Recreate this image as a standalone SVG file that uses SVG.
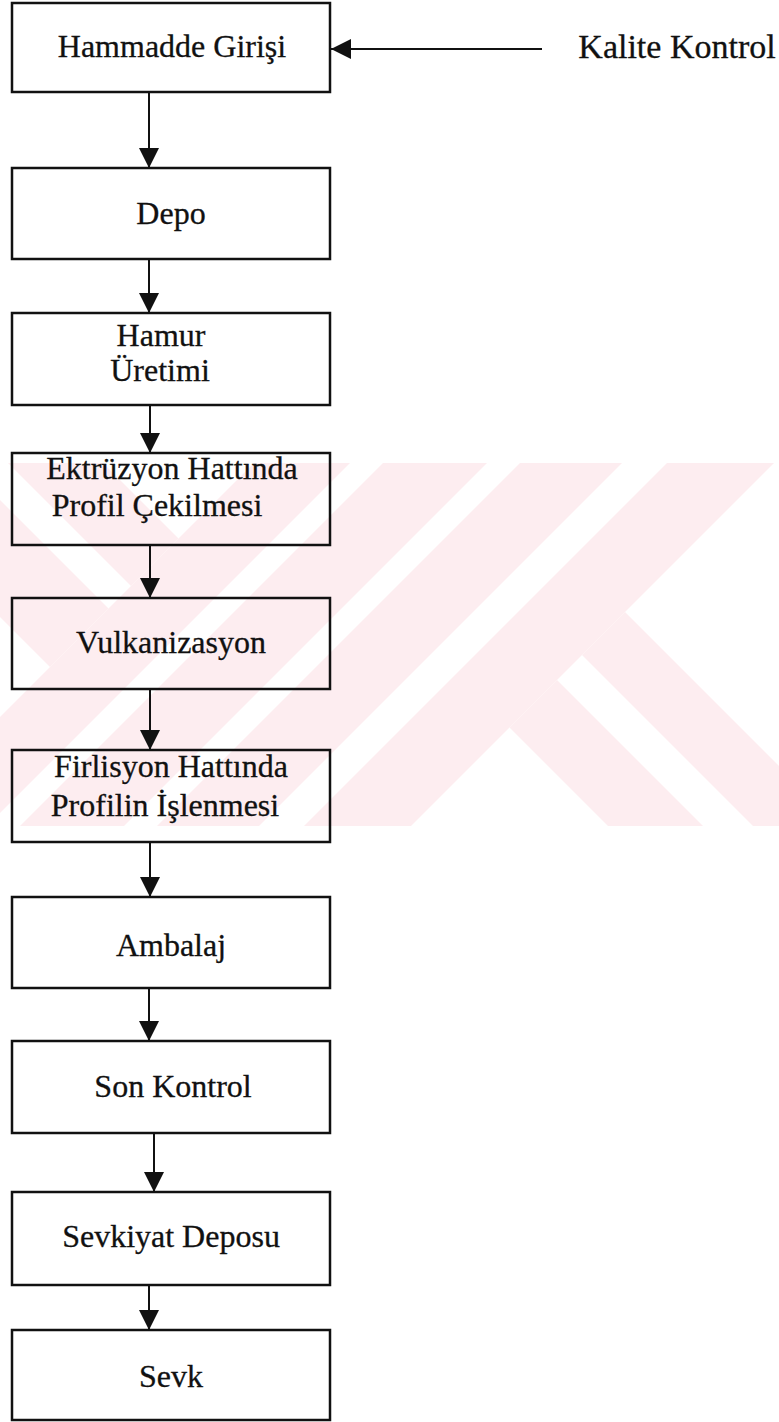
<svg xmlns="http://www.w3.org/2000/svg" width="779" height="1422" viewBox="0 0 779 1422">
  <style>
    .box { fill: none; stroke: #111; stroke-width: 2.5; }
    .t { font-family: "Liberation Serif", "Times New Roman", serif; font-size: 32px; fill: #111; stroke: #111; stroke-width: 0.3; text-anchor: middle; }
    .conn { stroke: #111; stroke-width: 2; fill: none; marker-end: url(#arrow); }
    .wm { fill: #fdedf0; }
  </style>
  <defs>
    <marker id="arrow" viewBox="0 0 20 20" refX="20" refY="10" markerWidth="20" markerHeight="20" markerUnits="userSpaceOnUse" orient="auto">
      <path d="M0,0 L20,10 L0,20 z" fill="#111"/>
    </marker>
    <clipPath id="wmclip">
      <rect x="0" y="463" width="779" height="363"/>
    </clipPath>
  </defs>
  <rect x="0" y="0" width="779" height="1422" fill="#ffffff"/>

  <g id="watermark" clip-path="url(#wmclip)">
    <polygon class="wm" points="254,463 350,463 -13,826 -109,826"/>
    <polygon class="wm" points="383,463 487,463 124,826 20,826"/>
    <polygon class="wm" points="520,463 622,463 259,826 157,826"/>
    <polygon class="wm" points="667,463 774,463 411,826 304,826"/>
    <polygon class="wm" points="625,612 913,900 827,900 582,655"/>
    <polygon class="wm" points="557,680 777,900 682,900 509.5,727.5"/>
    <polygon class="wm" points="50,667 108.5,608.5 -100,400 -217,400"/>
    <polygon class="wm" points="131,586 178.5,538.5 40,400 -55,400"/>
  </g>

  <g id="connectors">
    <line class="conn" x1="149" y1="92" x2="149" y2="168"/>
    <line class="conn" x1="149" y1="259" x2="149" y2="313"/>
    <line class="conn" x1="150" y1="405" x2="150" y2="453"/>
    <line class="conn" x1="150" y1="545" x2="150" y2="598"/>
    <line class="conn" x1="150" y1="690" x2="150" y2="750"/>
    <line class="conn" x1="150" y1="842" x2="150" y2="897"/>
    <line class="conn" x1="149" y1="988" x2="149" y2="1041"/>
    <line class="conn" x1="154" y1="1133" x2="154" y2="1192"/>
    <line class="conn" x1="149" y1="1285" x2="149" y2="1330"/>
    <line class="conn" x1="542" y1="49" x2="331" y2="49"/>
  </g>

  <g id="n-hammadde">
    <rect class="box" x="12" y="3" width="318" height="89"/>
    <text class="t" x="172" y="57">Hammadde Girişi</text>
  </g>
  <g id="n-kalite">
    <text class="t" x="677" y="58" style="font-size:34px">Kalite Kontrol</text>
  </g>
  <g id="n-depo">
    <rect class="box" x="12" y="168" width="318" height="91"/>
    <text class="t" x="171" y="224">Depo</text>
  </g>
  <g id="n-hamur">
    <rect class="box" x="12" y="313" width="318" height="92"/>
    <text class="t" x="161" y="346">Hamur</text>
    <text class="t" x="160" y="381">Üretimi</text>
  </g>
  <g id="n-ektruzyon">
    <rect class="box" x="12" y="453" width="318" height="92"/>
    <text class="t" x="172" y="479">Ektrüzyon Hattında</text>
    <text class="t" x="157" y="516">Profil Çekilmesi</text>
  </g>
  <g id="n-vulkanizasyon">
    <rect class="box" x="12" y="598" width="318" height="91"/>
    <text class="t" x="171" y="653">Vulkanizasyon</text>
  </g>
  <g id="n-firlisyon">
    <rect class="box" x="12" y="750" width="318" height="92"/>
    <text class="t" x="171" y="777">Firlisyon Hattında</text>
    <text class="t" x="165" y="816">Profilin İşlenmesi</text>
  </g>
  <g id="n-ambalaj">
    <rect class="box" x="12" y="897" width="318" height="91"/>
    <text class="t" x="171" y="956">Ambalaj</text>
  </g>
  <g id="n-sonkontrol">
    <rect class="box" x="12" y="1041" width="318" height="92"/>
    <text class="t" x="173" y="1097">Son Kontrol</text>
  </g>
  <g id="n-sevkiyat">
    <rect class="box" x="12" y="1192" width="318" height="93"/>
    <text class="t" x="171" y="1247">Sevkiyat Deposu</text>
  </g>
  <g id="n-sevk">
    <rect class="box" x="12" y="1330" width="318" height="90"/>
    <text class="t" x="171" y="1387">Sevk</text>
  </g>
</svg>
